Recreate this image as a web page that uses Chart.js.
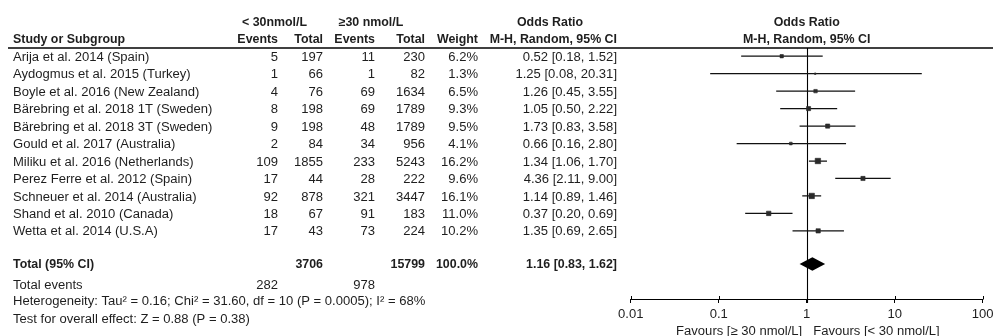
<!DOCTYPE html>
<html>
<head>
<meta charset="utf-8">
<script src="https://cdn.jsdelivr.net/npm/chart.js@4/dist/chart.umd.min.js"></script>
<style>
  html, body { margin: 0; padding: 0; background: #fff; }
  #wrap { width: 993px; height: 336px; }
</style>
</head>
<body>
<div id="wrap"><canvas id="forest" width="993" height="336"></canvas></div>
<script>
// Study-level data
const studies = [
  'Arija et al. 2014 (Spain)',
  'Aydogmus et al. 2015 (Turkey)',
  'Boyle et al. 2016 (New Zealand)',
  'Bärebring et al. 2018 1T (Sweden)',
  'Bärebring et al. 2018 3T (Sweden)',
  'Gould et al. 2017 (Australia)',
  'Miliku et al. 2016 (Netherlands)',
  'Perez Ferre et al. 2012 (Spain)',
  'Schneuer et al. 2014 (Australia)',
  'Shand et al. 2010 (Canada)',
  'Wetta et al. 2014 (U.S.A)'
];
const eventsLow  = [5, 1, 4, 8, 9, 2, 109, 17, 92, 18, 17];
const totalLow   = [197, 66, 76, 198, 198, 84, 1855, 44, 878, 67, 43];
const eventsHigh = [11, 1, 69, 69, 48, 34, 233, 28, 321, 91, 73];
const totalHigh  = [230, 82, 1634, 1789, 1789, 956, 5243, 222, 3447, 183, 224];
const weights    = [6.2, 1.3, 6.5, 9.3, 9.5, 4.1, 16.2, 9.6, 16.1, 11.0, 10.2];
const oddsRatio  = [0.52, 1.25, 1.26, 1.05, 1.73, 0.66, 1.34, 4.36, 1.14, 0.37, 1.35];
const ciLow      = [0.18, 0.08, 0.45, 0.50, 0.83, 0.16, 1.06, 2.11, 0.89, 0.20, 0.69];
const ciHigh     = [1.52, 20.31, 3.55, 2.22, 3.58, 2.80, 1.70, 9.00, 1.46, 0.69, 2.65];

// Pooled estimate
const pooledOR = 1.16;
const pooledLow = 0.83;
const pooledHigh = 1.62;
const pooledTotalLow = 3706;
const pooledTotalHigh = 15799;
const pooledWeight = '100.0%';
const totalEventsLow = 282;
const totalEventsHigh = 978;
const heterogeneityText = 'Heterogeneity: Tau\u00B2 = 0.16; Chi\u00B2 = 31.60, df = 10 (P = 0.0005); I\u00B2 = 68%';
const overallEffectText = 'Test for overall effect: Z = 0.88 (P = 0.38)';

// Axis
const axisTicks = [0.01, 0.1, 1, 10, 100];
const favoursLeft = 'Favours [\u2265 30 nmol/L]';
const favoursRight = 'Favours [< 30 nmol/L]';

const FONT = '"Liberation Sans", Arial, sans-serif';
const REG = '13.05px ' + FONT;
const BOLD = 'bold 12.4px ' + FONT;
const INK = '#1e1e1e';

const fmt2 = v => v.toFixed(2);
const orLabel = (o, l, h) => fmt2(o) + ' [' + fmt2(l) + ', ' + fmt2(h) + ']';

// Row positions on the y scale
const totalRow = 11.9;
const footerRows = [13.1, 14.05, 15.05];

const tablePlugin = {
  id: 'forestTable',
  beforeDatasetsDraw(chart) {
    const ctx = chart.ctx;
    const x = chart.scales.x;
    const area = chart.chartArea;
    ctx.save();
    // header rule
    ctx.strokeStyle = '#000';
    ctx.lineWidth = 1.3;
    ctx.beginPath();
    ctx.moveTo(8, area.top);
    ctx.lineTo(993, area.top);
    ctx.stroke();
    // line of no effect
    const x1 = Math.round(x.getPixelForValue(1)) + 0.5;
    ctx.lineWidth = 1.1;
    ctx.beginPath();
    ctx.moveTo(x1, area.top);
    ctx.lineTo(x1, area.bottom + 3.5);
    ctx.stroke();
    // upper halves of axis tick marks
    ctx.lineWidth = 1;
    axisTicks.forEach(v => {
      const px = Math.round(x.getPixelForValue(v)) + 0.5;
      ctx.beginPath();
      ctx.moveTo(px, area.bottom - 3.5);
      ctx.lineTo(px, area.bottom);
      ctx.stroke();
    });
    ctx.restore();
  },
  afterDraw(chart) {
    const ctx = chart.ctx;
    const x = chart.scales.x, y = chart.scales.y;
    ctx.save();
    ctx.fillStyle = INK;
    ctx.textBaseline = 'middle';

    const text = (s, px, py, align, font) => {
      ctx.font = font || REG;
      ctx.textAlign = align;
      ctx.fillText(s, px, py);
    };

    // column headers
    const h1 = 22.8, h2 = 39.5;
    text('< 30nmol/L', 274.5, h1, 'center', BOLD);
    text('\u226530 nmol/L', 371, h1, 'center', BOLD);
    text('Odds Ratio', 550, h1, 'center', BOLD);
    text('Odds Ratio', x.getPixelForValue(1), h1, 'center', BOLD);
    text('Study or Subgroup', 13, h2, 'left', BOLD);
    text('Events', 278, h2, 'right', BOLD);
    text('Total', 323, h2, 'right', BOLD);
    text('Events', 375, h2, 'right', BOLD);
    text('Total', 425, h2, 'right', BOLD);
    text('Weight', 478, h2, 'right', BOLD);
    text('M-H, Random, 95% CI', 617, h2, 'right', BOLD);
    text('M-H, Random, 95% CI', x.getPixelForValue(1), h2, 'center', BOLD);

    // study rows
    studies.forEach((s, i) => {
      const py = y.getPixelForValue(i) + 1;
      text(s, 13, py, 'left');
      text(String(eventsLow[i]), 278, py, 'right');
      text(String(totalLow[i]), 323, py, 'right');
      text(String(eventsHigh[i]), 375, py, 'right');
      text(String(totalHigh[i]), 425, py, 'right');
      text(weights[i].toFixed(1) + '%', 478, py, 'right');
      text(orLabel(oddsRatio[i], ciLow[i], ciHigh[i]), 617, py, 'right');
    });

    // pooled row
    const pt = y.getPixelForValue(totalRow) + 0.5;
    text('Total (95% CI)', 13, pt, 'left', BOLD);
    text(String(pooledTotalLow), 323, pt, 'right', BOLD);
    text(String(pooledTotalHigh), 425, pt, 'right', BOLD);
    text(pooledWeight, 478, pt, 'right', BOLD);
    text(orLabel(pooledOR, pooledLow, pooledHigh), 617, pt, 'right', BOLD);

    // footer
    const f0 = y.getPixelForValue(footerRows[0]);
    text('Total events', 13, f0, 'left');
    text(String(totalEventsLow), 278, f0, 'right');
    text(String(totalEventsHigh), 375, f0, 'right');
    text(heterogeneityText, 13, y.getPixelForValue(footerRows[1]), 'left');
    text(overallEffectText, 13, y.getPixelForValue(footerRows[2]), 'left');

    // pooled diamond
    const dy = y.getPixelForValue(totalRow);
    const half = 6.7;
    ctx.fillStyle = '#000';
    ctx.beginPath();
    ctx.moveTo(x.getPixelForValue(pooledLow), dy);
    ctx.lineTo(x.getPixelForValue(pooledOR), dy - half);
    ctx.lineTo(x.getPixelForValue(pooledHigh), dy);
    ctx.lineTo(x.getPixelForValue(pooledOR), dy + half);
    ctx.closePath();
    ctx.fill();

    // favours labels
    ctx.fillStyle = INK;
    const fy = 331;
    const c1 = x.getPixelForValue(1);
    text(favoursLeft, c1 - 4.5, fy, 'right');
    text(favoursRight, c1 + 6.5, fy, 'left');
    ctx.restore();
  }
};

// confidence interval whiskers, one short line per study
const whiskerSets = studies.map((s, i) => ({
  type: 'line',
  label: s,
  data: [{ x: ciLow[i], y: i }, { x: ciHigh[i], y: i }],
  borderColor: '#111',
  borderWidth: 1.25,
  pointRadius: 0,
  fill: false,
  order: 2
}));

// study estimates as squares scaled by weight
const squareSet = {
  type: 'scatter',
  label: 'Odds ratio',
  data: oddsRatio.map((v, i) => ({ x: v, y: i })),
  pointStyle: 'rect',
  pointRadius: weights.map(w => 1.35 * Math.sqrt(w) / Math.SQRT2),
  backgroundColor: '#2a2a2a',
  borderColor: '#2a2a2a',
  borderWidth: 0.6,
  order: 1
};

new Chart(document.getElementById('forest'), {
  data: { datasets: [...whiskerSets, squareSet] },
  options: {
    responsive: false,
    animation: false,
    events: [],
    layout: { padding: { left: 630.7, right: 10.3, top: 48, bottom: 0 } },
    plugins: { legend: { display: false }, tooltip: { enabled: false } },
    scales: {
      x: {
        type: 'logarithmic',
        position: 'bottom',
        min: 0.01,
        max: 100,
        afterBuildTicks: s => { s.ticks = axisTicks.map(v => ({ value: v })); },
        afterFit: s => {
          s.height = 36.5;
          // edge labels may overhang the plot; keep the plot width fixed
          s.paddingLeft = 0;
          s.paddingRight = 0;
        },
        border: { display: true, color: '#000', width: 1 },
        grid: { drawOnChartArea: false, drawTicks: true, tickLength: 3.5, color: '#000', lineWidth: 1 },
        ticks: {
          color: INK,
          font: { family: FONT, size: 13.05 },
          padding: 4,
          autoSkip: false,
          maxRotation: 0,
          callback: v => String(v)
        }
      },
      y: {
        type: 'linear',
        min: -0.47,
        max: 13.93,
        reverse: true,
        display: false
      }
    }
  },
  plugins: [tablePlugin]
});
</script>
</body>
</html>
